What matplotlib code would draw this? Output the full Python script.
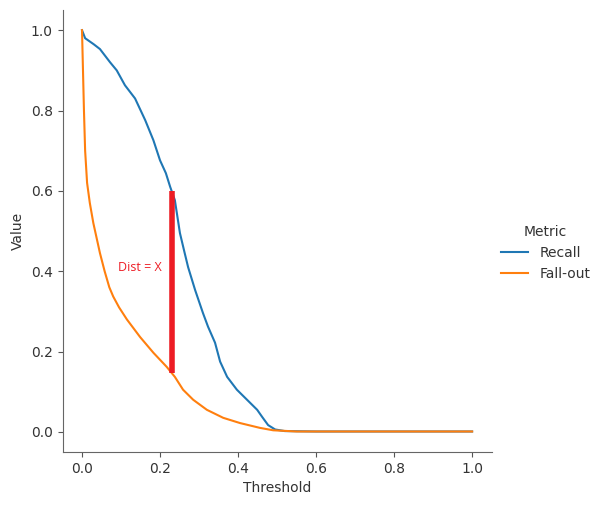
import matplotlib
matplotlib.use("Agg")
import matplotlib.pyplot as plt

recall_threshold = [0.0, 0.008, 0.03, 0.046, 0.072, 0.089, 0.11, 0.136, 0.162, 0.183, 0.2, 0.215,
                    0.226, 0.238, 0.251, 0.262, 0.272, 0.29, 0.31, 0.323, 0.341, 0.354, 0.372,
                    0.397, 0.423, 0.449, 0.462, 0.477, 0.495, 0.52, 0.6, 0.8, 1.0]
recall = [1.0, 0.98, 0.965, 0.953, 0.92, 0.90, 0.863, 0.83, 0.776, 0.726, 0.676, 0.644,
          0.61, 0.577, 0.495, 0.45, 0.41, 0.353, 0.296, 0.262, 0.222, 0.175, 0.137,
          0.105, 0.08, 0.055, 0.037, 0.017, 0.006, 0.002, 0.001, 0.001, 0.001]

fallout_threshold = [0.0, 0.002, 0.005, 0.008, 0.013, 0.02, 0.029, 0.046, 0.058, 0.07, 0.08,
                     0.095, 0.115, 0.149, 0.183, 0.217, 0.238, 0.259, 0.285, 0.32, 0.362,
                     0.405, 0.456, 0.49, 0.55, 0.8, 1.0]
fallout = [1.0, 0.92, 0.80, 0.70, 0.62, 0.57, 0.52, 0.445, 0.40, 0.36, 0.337,
           0.31, 0.28, 0.236, 0.197, 0.162, 0.137, 0.105, 0.08, 0.055, 0.035,
           0.022, 0.01, 0.004, 0.001, 0.001, 0.001]

series_names = ["Recall", "Fall-out"]
series_colors = ["#1f77b4", "#ff7f0e"]

dist_x = 0.23
dist_top = 0.6
dist_bottom = 0.147
dist_label = "Dist = X"

plt.rcParams["text.color"] = "#333333"
plt.rcParams["axes.labelcolor"] = "#333333"
plt.rcParams["xtick.color"] = "#555555"
plt.rcParams["ytick.color"] = "#555555"
plt.rcParams["xtick.labelcolor"] = "#333333"
plt.rcParams["ytick.labelcolor"] = "#333333"
plt.rcParams["axes.edgecolor"] = "#666666"

fig = plt.figure(figsize=(6.01, 5.05), dpi=100)
ax = fig.add_axes([0.104, 0.105, 0.714, 0.875])

h1, = ax.plot(recall_threshold, recall, color=series_colors[0], lw=1.5, label=series_names[0])
h2, = ax.plot(fallout_threshold, fallout, color=series_colors[1], lw=1.5, label=series_names[1])

ax.plot([dist_x, dist_x], [dist_bottom, dist_top], color="#ed1c24", lw=4, solid_capstyle="butt")
ax.text(dist_x - 0.025, 0.41, dist_label, color="#ed1c24", fontsize=9, ha="right", va="center",
        family=["Open Sans", "DejaVu Sans"])

ax.set_xlim(-0.05, 1.05)
ax.set_ylim(-0.05, 1.05)
ax.set_xticks([0.0, 0.2, 0.4, 0.6, 0.8, 1.0])
ax.set_yticks([0.0, 0.2, 0.4, 0.6, 0.8, 1.0])
ax.set_xlabel("Threshold")
ax.set_ylabel("Value")
for s in ["top", "right"]:
    ax.spines[s].set_visible(False)

fig.legend(handles=[h1, h2], title="Metric", loc="center left",
           bbox_to_anchor=(0.812, 0.499), frameon=False)

fig.savefig("out.png", dpi=100)
